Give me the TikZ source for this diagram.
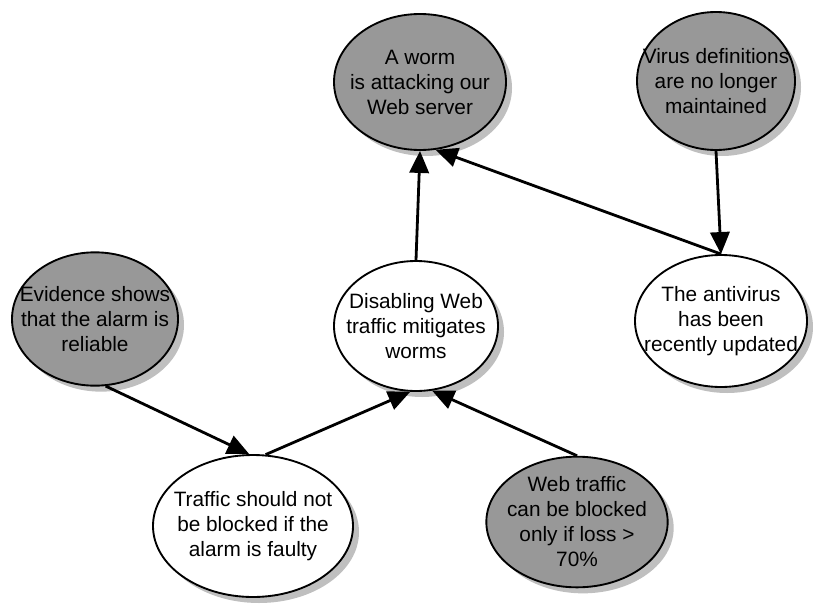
\documentclass[tikz,border=0pt]{standalone}
\usepackage{fontspec}
\setmainfont{Liberation Sans}
\usetikzlibrary{shapes.geometric,arrows.meta,shadows}
\definecolor{nodegray}{RGB}{152,152,152}
\definecolor{shadowgray}{RGB}{175,175,175}
\tikzset{
  txt/.style={align=center, inner sep=0pt, font=\fontsize{15.6}{18.75}\selectfont},
  belief/.style={ellipse, draw=black, line width=1.4pt, inner sep=0pt,
    drop shadow={shadow xshift=4.5pt, shadow yshift=-4.5pt, fill=shadowgray, opacity=0.8}},
  given/.style={belief, fill=nodegray},
  derived/.style={belief, fill=white},
  link/.style={line width=2.1pt, -{Triangle[length=16.5pt,width=14.5pt]}}
}
\begin{document}
\begin{tikzpicture}[x=0.75pt,y=-0.75pt]
\useasboundingbox (0,0) rectangle (813,610);
\node[given, minimum width=129pt, minimum height=102pt,
  label={[txt]center:{A worm\\is attacking our\\Web server}}] (worm) at (420,82) {};
\node[given, minimum width=118.5pt, minimum height=103.5pt,
  label={[txt]center:{Virus definitions\\are no longer\\maintained}}] (virus) at (716,81) {};
\node[given, minimum width=124.5pt, minimum height=100pt,
  label={[txt]center:{Evidence shows\\that the alarm is\\reliable}}] (evidence) at (95,319) {};
\node[derived, minimum width=123pt, minimum height=97.5pt,
  label={[txt]center:{Disabling Web\\traffic mitigates\\worms}}] (disable) at (416,326) {};
\node[derived, minimum width=129pt, minimum height=99pt,
  label={[txt]center:{The antivirus\\has been\\recently updated}}] (antivirus) at (721,321) {};
\node[derived, minimum width=150pt, minimum height=106.5pt,
  label={[txt]center:{Traffic should not\\be blocked if the\\alarm is faulty}}] (traffic) at (253,526) {};
\node[given, minimum width=136pt, minimum height=98pt,
  label={[txt]center:{Web traffic\\can be blocked\\only if loss >\\70\%}}] (webtraffic) at (577,522) {};

\draw[link] (disable.north) -- (worm.south);
\draw[link] (antivirus.north) -- (worm.-77);
\draw[link] (virus.south) -- (antivirus.north);
\draw[link] (evidence.-81) -- (traffic.93);
\draw[link] (traffic.80) -- (disable.-95);
\draw[link] (webtraffic.north) -- (disable.-76);
\end{tikzpicture}
\end{document}
